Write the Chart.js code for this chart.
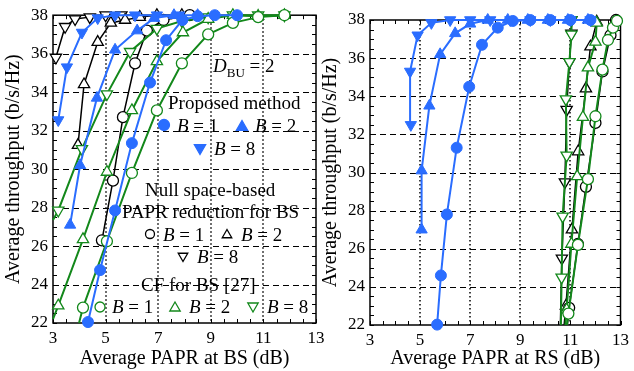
<!DOCTYPE html>
<html>
<head>
<meta charset="utf-8">
<script src="https://cdn.jsdelivr.net/npm/chart.js@4.4.0/dist/chart.umd.min.js"></script>
<style>
  html, body { margin: 0; padding: 0; background: #fff; }
  #wrap { position: relative; width: 634px; height: 371px; overflow: hidden; }
  #bs { position: absolute; left: 0; top: 0; }
  #rs { position: absolute; left: 317px; top: 0; }
</style>
</head>
<body>
<div id="wrap">
  <canvas id="bs" width="330" height="371"></canvas>
  <canvas id="rs" width="317" height="371"></canvas>
</div>
<script>
// --- data: [PAPR (dB), throughput (b/s/Hz)] ---
const xTicks = [3, 5, 7, 9, 11, 13];
const yTicks = [22, 24, 26, 28, 30, 32, 34, 36, 38];

// left panel: PAPR at BS
const bsPropB1 = [[4.33,22.05],[4.79,24.75],[5.36,27.85],[6.0,31.35],[6.69,34.5],[7.3,36.7],[7.92,37.75],[8.5,37.95],[9.15,38],[10.0,38]];
const bsPropB2 = [[3.65,27.1],[4.03,30.2],[4.67,33.7],[5.36,36.2],[6.2,37.2],[6.85,37.85],[7.6,38],[8.5,38]];
const bsPropB8 = [[3.2,32.55],[3.53,35.3],[4.1,37.1],[4.7,37.85],[5.36,38],[6.12,38],[6.95,38],[7.8,38]];
const bsNullB1 = [[4.86,26.3],[5.28,29.4],[5.66,32.7],[6.12,35.5],[6.57,37.2],[7.2,37.75],[8.2,38]];
const bsNullB2 = [[3.95,31.25],[4.18,34.4],[4.7,36.6],[5.2,37.6],[5.74,37.75],[6.3,37.9],[6.95,38],[7.9,38]];
const bsNullB8 = [[3.11,35.8],[3.46,37.4],[3.84,37.8],[4.4,37.9],[5.0,38],[5.6,38]];
const bsCfB1 = [[3.99,22],[4.14,22.8],[5.05,26.25],[6.0,29.8],[6.95,33.05],[7.9,35.5],[8.9,37.0],[9.84,37.6],[10.8,37.9],[11.8,38]];
const bsCfB2 = [[3,22.2],[3.2,22.9],[4.14,26.35],[5.05,29.85],[6.0,33.05],[6.95,35.6],[7.94,37.1],[8.9,37.8],[9.84,38],[10.8,37.95],[11.8,38]];
const bsCfB8 = [[3,27.35],[3.2,27.85],[4.1,31.05],[5.05,33.9],[5.93,36.1],[6.95,37.3],[7.9,37.7],[8.9,37.9],[9.84,38],[10.8,38],[11.8,38]];

// right panel: PAPR at RS
const rsPropB1 = [[5.68,22.02],[5.83,24.6],[6.07,27.8],[6.46,31.3],[6.96,34.5],[7.47,36.7],[8.1,37.6],[8.7,37.95],[9.4,38],[10.2,38],[11.0,38],[11.8,38]];
const rsPropB2 = [[5.06,27.0],[5.06,30.1],[5.37,33.5],[5.8,36.2],[6.4,37.3],[7.0,37.8],[7.7,38],[8.5,38],[9.3,38],[10.1,38],[10.9,38],[11.7,38]];
const rsPropB8 = [[4.63,32.5],[4.6,35.3],[4.9,37.2],[5.45,37.85],[6.2,38],[7.0,38],[7.8,38],[8.6,38],[9.4,38],[10.2,38],[11.0,38],[11.8,38]];
const rsNullB1 = [[10.88,22],[10.95,22.9],[11.3,26.25],[11.62,29.25],[12.0,32.6],[12.28,35.3],[12.6,37.2],[12.82,38]];
const rsNullB2 = [[10.75,22],[10.82,23.0],[11.06,27.0],[11.31,31.1],[11.62,34.4],[11.8,36.6],[12.05,37.9]];
const rsNullB8 = [[10.6,22],[10.66,25.5],[10.78,29.5],[10.85,33.3],[10.96,35.8],[11.04,37.3],[11.04,38]];
const rsCfB1 = [[10.86,22],[10.92,22.6],[11.3,26.2],[11.7,29.65],[12.0,32.95],[12.28,35.4],[12.5,36.95],[12.7,37.6],[12.86,37.95]];
const rsCfB2 = [[10.8,22],[10.85,22.8],[11.04,26.25],[11.27,29.8],[11.5,32.9],[11.7,35.5],[12.0,36.85],[12.05,37.85]];
const rsCfB8 = [[10.62,22],[10.65,24.5],[10.69,27.7],[10.85,30.9],[10.82,33.85],[10.96,35.8],[11.04,37.25],[11.04,38]];

const SERIF = "'Liberation Serif', 'Times New Roman', serif";
const BLUE = '#2a6dff', GREEN = '#13881b', BLACK = '#000';
const X_MIN = 3, X_MAX = 13, Y_MIN = 22, Y_MAX = 38;

// one line+marker series
function ds(label, pts, color, shape, filled, width) {
  const r = shape === 'circle' ? 5.5 : 6.5;
  return {
    label: label,
    data: pts.map(p => ({ x: p[0], y: p[1] })),
    showLine: true,
    borderColor: color,
    borderWidth: width,
    backgroundColor: color,
    pointStyle: shape === 'down' ? 'triangle' : shape,
    rotation: shape === 'down' ? 180 : 0,
    pointBackgroundColor: filled ? color : '#fff',
    pointBorderColor: color,
    pointBorderWidth: filled ? 1 : 1.3,
    // points sitting on the axis limit are just where the curve leaves the plot
    pointRadius: c => (c.raw && (c.raw.x <= X_MIN || c.raw.y <= Y_MIN)) ? 0 : r,
    pointHoverRadius: 0,
    tension: 0,
    clip: 8
  };
}

// grid, frame and inward ticks
const frame = {
  id: 'frame',
  beforeDatasetsDraw(chart) {
    const { ctx, chartArea: a, scales: { x, y } } = chart;
    ctx.save();
    ctx.strokeStyle = '#000';
    ctx.lineWidth = 1;
    ctx.setLineDash([6, 4]);
    yTicks.slice(1, -1).forEach(v => {
      const py = Math.round(y.getPixelForValue(v)) + 0.5;
      ctx.beginPath(); ctx.moveTo(a.left, py); ctx.lineTo(a.right, py); ctx.stroke();
    });
    ctx.lineWidth = 1.5;
    ctx.setLineDash([1.5, 2.5]);
    xTicks.slice(1, -1).forEach(v => {
      const px = Math.round(x.getPixelForValue(v));
      ctx.beginPath(); ctx.moveTo(px, a.top); ctx.lineTo(px, a.bottom); ctx.stroke();
    });
    ctx.setLineDash([]);
    ctx.lineWidth = 1;
    for (let v = X_MIN; v <= X_MAX; v += 0.5) {
      const px = Math.round(x.getPixelForValue(v)) + 0.5;
      ctx.beginPath();
      ctx.moveTo(px, a.bottom); ctx.lineTo(px, a.bottom - 4);
      ctx.moveTo(px, a.top); ctx.lineTo(px, a.top + 4);
      ctx.stroke();
    }
    for (let v = Y_MIN; v <= Y_MAX; v += 0.5) {
      const py = Math.round(y.getPixelForValue(v)) + 0.5;
      ctx.beginPath();
      ctx.moveTo(a.left, py); ctx.lineTo(a.left + 4, py);
      ctx.moveTo(a.right, py); ctx.lineTo(a.right - 4, py);
      ctx.stroke();
    }
    ctx.lineWidth = 1.5;
    ctx.strokeRect(a.left, a.top, a.right - a.left, a.bottom - a.top);
    ctx.restore();
  }
};

function scaleOpts(xTitle, xH) {
  return {
    x: {
      type: 'linear', min: X_MIN, max: X_MAX,
      afterBuildTicks: s => { s.ticks = xTicks.map(v => ({ value: v })); },
      ticks: { font: { family: SERIF, size: 17 }, color: '#000', padding: 5, maxRotation: 0, autoSkip: false },
      grid: { display: false, drawTicks: false },
      border: { display: false },
      title: { display: true, text: xTitle, color: '#000', font: { family: SERIF, size: 20 }, padding: { top: 0, bottom: 0 } },
      afterFit: s => { s.height = xH; }
    },
    y: {
      type: 'linear', min: Y_MIN, max: Y_MAX,
      afterBuildTicks: s => { s.ticks = yTicks.map(v => ({ value: v })); },
      ticks: { font: { family: SERIF, size: 17 }, color: '#000', padding: 5, autoSkip: false },
      grid: { display: false, drawTicks: false },
      border: { display: false },
      title: { display: true, text: 'Average throughput (b/s/Hz)', color: '#000', font: { family: SERIF, size: 20 }, padding: { top: 2, bottom: 0 } },
      afterFit: s => { s.width = 53; }
    }
  };
}

// ---- legend text in the left panel ----
function txt(ctx, parts, x, y) {
  parts.forEach(p => {
    const size = p[2] || 19;
    ctx.font = (p[1] === 'i' ? 'italic ' : '') + size + 'px ' + SERIF;
    ctx.fillText(p[0], x, y + (p[3] || 0));
    x += ctx.measureText(p[0]).width;
  });
}
function mark(ctx, shape, color, filled, x, y, r) {
  ctx.save();
  ctx.beginPath();
  if (shape === 'circle') {
    ctx.arc(x, y, r, 0, Math.PI * 2);
  } else {
    const s = shape === 'down' ? -1 : 1;
    ctx.moveTo(x, y - s * r);
    ctx.lineTo(x + r * 0.866, y + s * r * 0.5);
    ctx.lineTo(x - r * 0.866, y + s * r * 0.5);
    ctx.closePath();
  }
  ctx.fillStyle = filled ? color : '#fff';
  ctx.fill();
  ctx.lineWidth = 1.3;
  ctx.strokeStyle = color;
  ctx.stroke();
  ctx.restore();
}
const B = n => [['B', 'i'], [' = ' + n]];

const legend = {
  id: 'legendText',
  afterDatasetsDraw(chart) {
    const ctx = chart.ctx;
    ctx.save();
    ctx.fillStyle = '#000';
    ctx.textBaseline = 'alphabetic';
    txt(ctx, [['D', 'i'], ['BU', '', 13, 5], [' = 2']], 213, 72);
    txt(ctx, [['Proposed method']], 168, 109);
    mark(ctx, 'circle', BLUE, true, 164, 125, 5.5);
    txt(ctx, B(1), 177, 132);
    mark(ctx, 'triangle', BLUE, true, 242, 127, 6.5);
    txt(ctx, B(2), 255, 132);
    mark(ctx, 'down', BLUE, true, 200, 148, 6.5);
    txt(ctx, B(8), 214, 155);
    txt(ctx, [['Null space-based']], 145, 196);
    txt(ctx, [['PAPR reduction for BS']], 122, 218);
    mark(ctx, 'circle', BLACK, false, 150, 234, 4.5);
    txt(ctx, B(1), 163, 241);
    mark(ctx, 'triangle', BLACK, false, 227, 235, 5.5);
    txt(ctx, B(2), 241, 241);
    mark(ctx, 'down', BLACK, false, 183, 256, 5.5);
    txt(ctx, B(8), 197, 263);
    txt(ctx, [['CF for BS [27]']], 141, 291);
    mark(ctx, 'circle', GREEN, false, 100, 307, 5);
    txt(ctx, B(1), 112, 313);
    mark(ctx, 'triangle', GREEN, false, 175, 308, 6);
    txt(ctx, B(2), 189, 313);
    mark(ctx, 'down', GREEN, false, 253, 306, 6);
    txt(ctx, B(8), 267, 313);
    ctx.restore();
  }
};

function makeChart(id, sets, xTitle, pad, xH, plugins) {
  return new Chart(document.getElementById(id), {
    type: 'scatter',
    data: { datasets: sets },
    options: {
      responsive: false,
      animation: false,
      events: [],
      layout: { padding: pad },
      plugins: { legend: { display: false }, tooltip: { enabled: false } },
      scales: scaleOpts(xTitle, xH)
    },
    plugins: plugins
  });
}

makeChart('bs', [
  ds('Proposed B=1', bsPropB1, BLUE, 'circle', true, 2),
  ds('Proposed B=2', bsPropB2, BLUE, 'triangle', true, 2),
  ds('Proposed B=8', bsPropB8, BLUE, 'down', true, 2),
  ds('CF B=1', bsCfB1, GREEN, 'circle', false, 2),
  ds('CF B=2', bsCfB2, GREEN, 'triangle', false, 2),
  ds('CF B=8', bsCfB8, GREEN, 'down', false, 2),
  ds('Null B=1', bsNullB1, BLACK, 'circle', false, 1.5),
  ds('Null B=2', bsNullB2, BLACK, 'triangle', false, 1.5),
  ds('Null B=8', bsNullB8, BLACK, 'down', false, 1.5)
], 'Average PAPR at BS (dB)', { left: 0, top: 15, right: 14, bottom: 0 }, 48, [frame, legend]);

makeChart('rs', [
  ds('Proposed B=1', rsPropB1, BLUE, 'circle', true, 2),
  ds('Proposed B=2', rsPropB2, BLUE, 'triangle', true, 2),
  ds('Proposed B=8', rsPropB8, BLUE, 'down', true, 2),
  ds('CF B=1', rsCfB1, GREEN, 'circle', false, 2),
  ds('CF B=2', rsCfB2, GREEN, 'triangle', false, 2),
  ds('CF B=8', rsCfB8, GREEN, 'down', false, 2),
  ds('Null B=1', rsNullB1, BLACK, 'circle', false, 1.5),
  ds('Null B=2', rsNullB2, BLACK, 'triangle', false, 1.5),
  ds('Null B=8', rsNullB8, BLACK, 'down', false, 1.5)
], 'Average PAPR at RS (dB)', { left: 0, top: 20, right: 7, bottom: 0 }, 46, [frame]);
</script>
</body>
</html>
